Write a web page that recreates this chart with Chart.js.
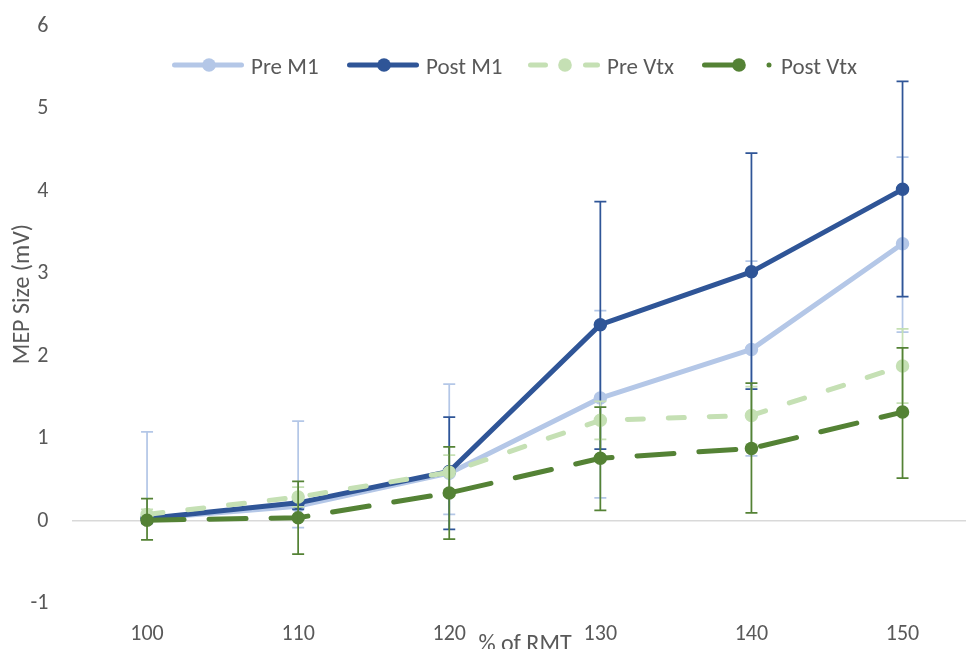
<!DOCTYPE html>
<html><head><meta charset="utf-8">
<script src="https://cdn.jsdelivr.net/npm/chart.js@4.4.1/dist/chart.umd.min.js"></script>
<style>html,body{margin:0;padding:0;background:#fff;overflow:hidden}#wrap{width:966px;height:649px;position:relative}</style>
</head><body><div id="wrap"><canvas id="c" width="966" height="649"></canvas></div>
<script>
// ---- data ----
const categories = [100, 110, 120, 130, 140, 150];
const seriesNames = ['Pre M1', 'Post M1', 'Pre Vtx', 'Post Vtx'];
const preM1   = [0.03, 0.18, 0.58, 1.49, 2.08, 3.36];
const postM1  = [0.03, 0.22, 0.60, 2.38, 3.02, 4.02];
const preVtx  = [0.08, 0.29, 0.59, 1.22, 1.28, 1.88];
const postVtx = [0.01, 0.04, 0.34, 0.76, 0.88, 1.32];
// error bar extents
const preM1Plus    = [1.05, 1.03, 1.08, 1.06, 1.07, 1.05];
const preM1Minus   = [0.00, 0.26, 0.50, 1.21, 1.29, 1.07];
const postM1Plus   = [0.06, 0.08, 0.66, 1.49, 1.44, 1.31];
const postM1Minus  = [0.06, 0.08, 0.70, 1.51, 1.42, 1.30];
const preVtxPlus   = [0.06, 0.12, 0.21, 0.23, 0.35, 0.45];
const preVtxMinus  = [0.06, 0.12, 0.21, 0.23, 0.35, 0.45];
const postVtxPlus  = [0.26, 0.44, 0.56, 0.62, 0.79, 0.78];
const postVtxMinus = [0.24, 0.44, 0.56, 0.63, 0.78, 0.80];
const yTicks = [-1, 0, 1, 2, 3, 4, 5, 6];
const xTitle = '% of RMT';
const yTitle = 'MEP Size (mV)';

// ---- styles ----
const FONT = 'Carlito, Calibri, Lato, sans-serif';
const TEXT = '#595959';
const colors = ['#B4C7E7', '#2F5597', '#C5E0B4', '#548235'];
const dashes = [[], [], [16, 25], [37, 25]];
const legendDashes = [[], [], [15, 40], [38, 26.5, 0.01, 60]];
const legendStarts = [172, 347, 528, 702];
const seriesValues = [preM1, postM1, preVtx, postVtx];
const plusErr = [preM1Plus, postM1Plus, preVtxPlus, postVtxPlus];
const minusErr = [preM1Minus, postM1Minus, preVtxMinus, postVtxMinus];

const datasets = seriesNames.map((name, s) => ({
  label: name,
  data: categories.map((c, i) => ({x: c, y: seriesValues[s][i]})),
  errPlus: plusErr[s],
  errMinus: minusErr[s],
  borderColor: colors[s],
  backgroundColor: colors[s],
  borderWidth: 5,
  borderDash: dashes[s],
  borderCapStyle: 'round',
  borderJoinStyle: 'round',
  pointRadius: 6,
  pointBorderWidth: 1.5,
  pointHoverRadius: 6,
  tension: 0,
  order: seriesNames.length - s
}));

const errorBars = {
  id: 'errorBars',
  afterDatasetDraw(chart, args) {
    const ds = chart.data.datasets[args.index];
    const xs = chart.scales.x, ys = chart.scales.y, ctx = chart.ctx, a = chart.chartArea;
    ctx.save();
    ctx.beginPath(); ctx.rect(a.left, a.top, a.right - a.left, a.bottom - a.top); ctx.clip();
    ctx.strokeStyle = ds.borderColor; ctx.lineWidth = 1.75; ctx.setLineDash([]);
    ctx.lineCap = 'butt';
    ds.data.forEach((p, i) => {
      const px = xs.getPixelForValue(p.x);
      const hi = ys.getPixelForValue(p.y + ds.errPlus[i]);
      const lo = ys.getPixelForValue(p.y - ds.errMinus[i]);
      ctx.beginPath();
      ctx.moveTo(px, hi); ctx.lineTo(px, lo);
      if (ds.errPlus[i] > 0) { ctx.moveTo(px - 6, hi); ctx.lineTo(px + 6, hi); }
      if (ds.errMinus[i] > 0) { ctx.moveTo(px - 6, lo); ctx.lineTo(px + 6, lo); }
      ctx.stroke();
    });
    ctx.restore();
  }
};

const overlay = {
  id: 'overlay',
  afterDraw(chart) {
    const ctx = chart.ctx;
    ctx.save();
    // legend
    ctx.font = '23px ' + FONT;
    ctx.textBaseline = 'alphabetic';
    ctx.textAlign = 'left';
    chart.data.datasets.forEach((ds, s) => {
      const x0 = legendStarts[s], y0 = 65;
      ctx.strokeStyle = ds.borderColor; ctx.lineWidth = 5; ctx.lineCap = 'round';
      ctx.setLineDash(legendDashes[s]);
      ctx.beginPath(); ctx.moveTo(x0 + 2.5, y0); ctx.lineTo(x0 + 69.5, y0); ctx.stroke();
      ctx.setLineDash([]);
      ctx.fillStyle = ds.backgroundColor;
      ctx.beginPath(); ctx.arc(x0 + 37, y0, 6.8, 0, Math.PI * 2); ctx.fill();
      ctx.fillStyle = TEXT;
      ctx.fillText(ds.label, x0 + 79, 74);
    });
    // axis titles
    ctx.fillStyle = TEXT;
    ctx.textAlign = 'center';
    ctx.font = '24px ' + FONT;
    ctx.fillText(xTitle, 525, 651);
    ctx.translate(29, 294);
    ctx.rotate(-Math.PI / 2);
    ctx.fillText(yTitle, 0, 0);
    ctx.restore();
  }
};

new Chart(document.getElementById('c'), {
  type: 'line',
  data: {datasets},
  options: {
    responsive: false,
    devicePixelRatio: 1,
    animation: false,
    events: [],
    layout: {autoPadding: false, padding: {top: 26, right: 0, bottom: 0, left: 0}},
    plugins: {legend: {display: false}, tooltip: {enabled: false}},
    scales: {
      x: {
        type: 'linear', min: 95, max: 154.2,
        afterBuildTicks(scale) { scale.ticks = categories.map(v => ({value: v})); },
        afterFit(scale) { scale.height = 45.5; scale.paddingLeft = 0; scale.paddingRight = 0; },
        grid: {display: false, drawTicks: false},
        border: {display: false},
        ticks: {color: TEXT, font: {family: FONT, size: 22}, padding: 17.8, maxRotation: 0, autoSkip: false,
                callback: v => String(v)}
      },
      y: {
        type: 'linear', min: -1, max: 6,
        afterBuildTicks(scale) { scale.ticks = yTicks.map(v => ({value: v})); },
        afterFit(scale) { scale.width = 71.5; scale.paddingTop = 0; scale.paddingBottom = 0; },
        grid: {drawTicks: false, lineWidth: 1.5, color: c => (c.tick && c.tick.value === 0) ? '#D9D9D9' : 'rgba(0,0,0,0)'},
        border: {display: false},
        ticks: {color: TEXT, font: {family: FONT, size: 22}, padding: 23, callback: v => String(v)}
      }
    }
  },
  plugins: [errorBars, overlay]
});
</script>
</body></html>
